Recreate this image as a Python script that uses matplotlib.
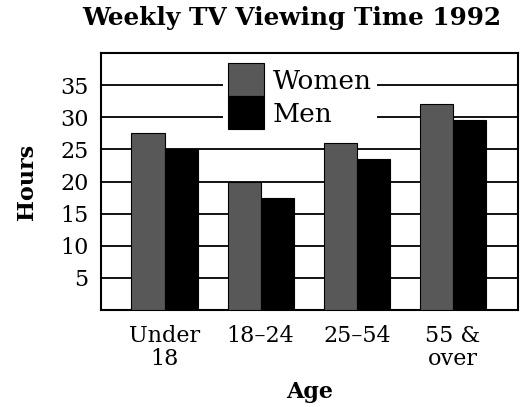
import matplotlib
matplotlib.use("Agg")
import matplotlib.pyplot as plt
import numpy as np

categories = ["Under\n18", "18–24", "25–54", "55 &\nover"]
women = [27.5, 20, 26, 32]
men = [25, 17.5, 23.5, 29.5]
yticks = [5, 10, 15, 20, 25, 30, 35]

plt.rcParams['font.family'] = ['DejaVu Serif']

fig = plt.figure(figsize=(5.24, 4.07), dpi=100)
ax = fig.add_axes([0.193, 0.238, 0.796, 0.632])

x = np.arange(len(categories))
w = 0.345
ax.bar(x - w/2, women, w, color="#585858", edgecolor="black", linewidth=0.8, label="Women", zorder=3)
ax.bar(x + w/2, men, w, color="black", edgecolor="black", linewidth=0.8, label="Men", zorder=3)

ax.set_xlim(-0.66, 3.68)
ax.set_ylim(0, 40)
ax.set_yticks(yticks)
ax.set_yticklabels([str(v) for v in yticks], fontsize=16)
ax.set_xticks(x)
ax.set_xticklabels(categories, fontsize=16, linespacing=1.05)
ax.tick_params(axis="y", length=0, pad=9)
ax.tick_params(axis="x", length=0, pad=11)
ax.yaxis.grid(True, color="black", linewidth=1.3)
ax.set_axisbelow(True)
for s in ax.spines.values():
    s.set_linewidth(1.5)

ax.set_xlabel("Age", fontsize=16, fontweight="bold", labelpad=8)
ax.set_ylabel("Hours", fontsize=16, fontweight="bold", labelpad=16)
fig.suptitle("Weekly TV Viewing Time 1992", fontsize=17.8, fontweight="bold", x=0.557, y=0.985)

leg = ax.legend(loc="upper left", bbox_to_anchor=(0.28, 1.0), fontsize=19,
                frameon=True, framealpha=1, facecolor="white", edgecolor="none",
                fancybox=False, handlelength=1.33, handleheight=1.546,
                labelspacing=0, handletextpad=0.35, borderpad=0.2, borderaxespad=0.2)
leg.set_zorder(4)

fig.savefig("out.png", dpi=100)
